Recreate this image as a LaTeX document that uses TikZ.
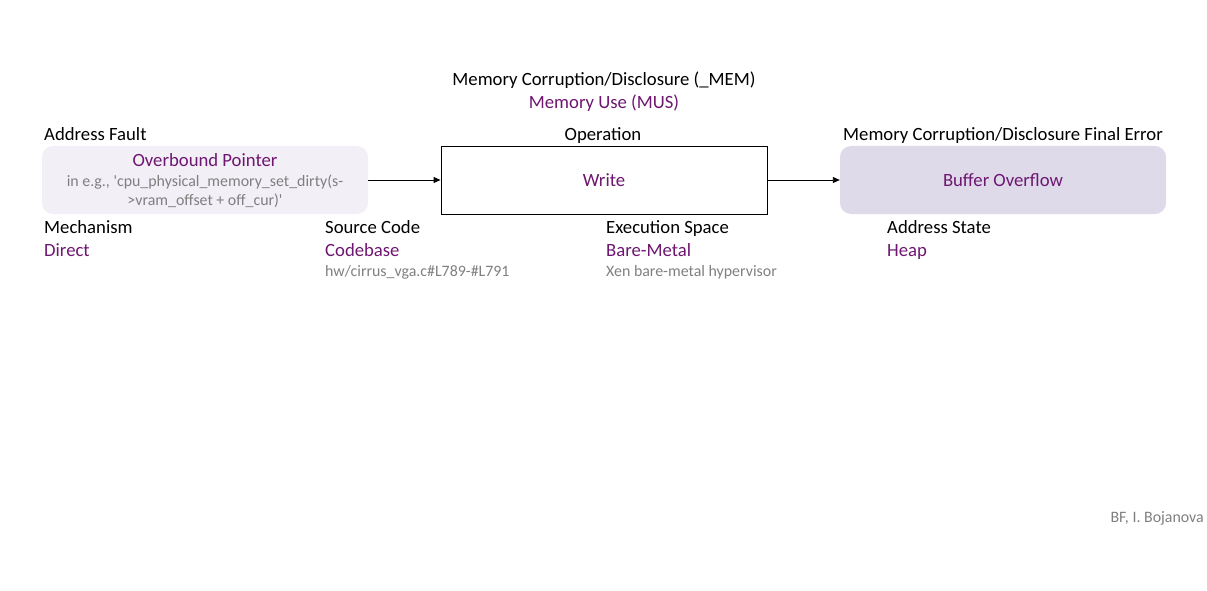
\documentclass[tikz,border=0pt]{standalone}
\usepackage{fontspec}
\setmainfont{Carlito}
\usetikzlibrary{arrows.meta}
\definecolor{vpurple}{HTML}{6E1670}
\definecolor{vgray}{HTML}{7F7F7F}
\definecolor{lightfill}{HTML}{F2EFF6}
\definecolor{darkfill}{HTML}{DEDAEA}
\tikzset{
  lbl/.style={inner sep=0pt, font=\fontsize{18.7}{22}\selectfont, text=black, text height=18pt, text depth=4.5pt},
  val/.style={lbl, text=vpurple},
  note/.style={inner sep=0pt, font=\fontsize{15.9}{19}\selectfont, text=vgray, text height=15pt, text depth=4pt},
  boxbase/.style={minimum width=326pt, minimum height=68pt, inner sep=0pt},
  softbox/.style={boxbase, rounded corners=11pt, draw=none},
  opbox/.style={boxbase, draw=black, line width=0.9pt, fill=white},
  conn/.style={line width=0.9pt, -{Triangle[length=7pt,width=6pt]}}
}
\begin{document}
\begin{tikzpicture}[x=1pt,y=-1pt]
\useasboundingbox (0,0) rectangle (1207,591);
% boxes
\node[softbox, fill=lightfill] (fault) at (205,180) {};
\node[opbox] (op) at (604,180) {};
\node[softbox, fill=darkfill] (err) at (1003,180) {};
% box texts
\node[val] (faultname) at (205,160) {Overbound Pointer};
\node[note] (faultex1) at (205,181) {in e.g., \textquotesingle cpu\_physical\_memory\_set\_dirty(s-};
\node[note] (faultex2) at (205,200) {>vram\_offset + off\_cur)\textquotesingle};
\node[val] (opname) at (604,180) {Write};
\node[val] (errname) at (1003,180) {Buffer Overflow};
% connectors
\draw[conn] (fault.east) -- (op.west);
\draw[conn] (op.east) -- (err.west);
% headings
\node[lbl] (cls) at (604,79) {Memory Corruption/Disclosure (\_MEM)};
\node[val] (clsval) at (604,102) {Memory Use (MUS)};
\node[lbl] (oplbl) at (603,134) {Operation};
\node[lbl, anchor=west] (faultlbl) at (44,134) {Address Fault};
\node[lbl, anchor=west] (errlbl) at (843,134) {Memory Corruption/Disclosure Final Error};
% attributes
\node[lbl, anchor=west] (mechlbl) at (44,227) {Mechanism};
\node[val, anchor=west] (mechval) at (44,250) {Direct};
\node[lbl, anchor=west] (srclbl) at (325,227) {Source Code};
\node[val, anchor=west] (srcval) at (325,250) {Codebase};
\node[note, anchor=west] (srcnote) at (325,271) {hw/cirrus\_vga.c\#L789-\#L791};
\node[lbl, anchor=west] (execlbl) at (606,227) {Execution Space};
\node[val, anchor=west] (execval) at (606,250) {Bare-Metal};
\node[note, anchor=west] (execnote) at (606,271) {Xen bare-metal hypervisor};
\node[lbl, anchor=west] (statelbl) at (887,227) {Address State};
\node[val, anchor=west] (stateval) at (887,250) {Heap};
% credit
\node[note, anchor=east] (credit) at (1204,517) {BF, I. Bojanova};
\end{tikzpicture}
\end{document}
